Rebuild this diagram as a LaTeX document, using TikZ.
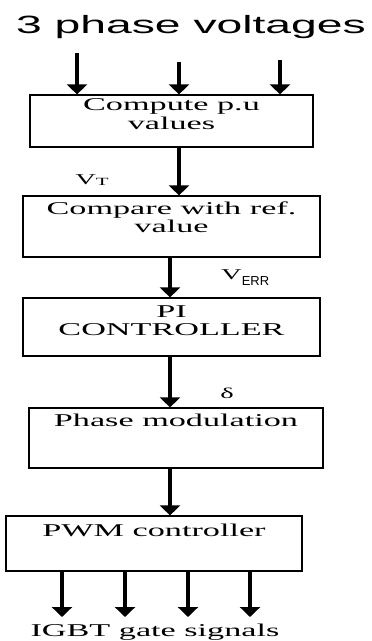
\documentclass[tikz,border=0pt]{standalone}
\usepackage{fontspec}
\setmainfont{Liberation Serif}[FakeStretch=1.9]
\newfontfamily\headfont{Liberation Sans}[FakeStretch=1.85]
\newfontfamily\errfont{Liberation Sans}
\usetikzlibrary{arrows.meta,positioning}

\begin{document}
\begin{tikzpicture}[x=1pt,y=1pt]
	\tikzstyle{box}=[draw,line width=1.2pt,rectangle,inner sep=0pt];
	\tikzstyle{flow}=[line width=4pt,-{Triangle[width=20pt,length=10pt]}];
	\tikzstyle{txt}=[font=\fontsize{18}{18.5}\selectfont,align=center,inner sep=0pt];
	\tikzstyle{lbl}=[font=\fontsize{15}{15}\selectfont,inner sep=0pt];
	\useasboundingbox (0,0) rectangle (372,-641);

	\node[font=\headfont\fontsize{25}{26}\selectfont,inner sep=0pt] (title) at (191,-27) {3 phase voltages};

	% blocks
	\node[box,minimum width=283pt,minimum height=52pt] (b1) at (171.5,-121) {};
	\node[box,minimum width=297pt,minimum height=61pt] (b2) at (171.5,-226.5) {};
	\node[box,minimum width=297pt,minimum height=58pt] (b3) at (171.5,-327) {};
	\node[box,minimum width=294pt,minimum height=60pt] (b4) at (176,-438) {};
	\node[box,minimum width=296pt,minimum height=55pt] (b5) at (154,-543.5) {};

	\node[txt,below=4pt of b1.north] (t1) {Compute p.u\\values};
	\node[txt,below=6pt of b2.north] (t2) {Compare with ref.\\value};
	\node[txt,below=8pt of b3.north] (t3) {PI\\CONTROLLER};
	\node[txt,below=6pt of b4.north] (t4) {Phase modulation};
	\node[txt,below=8pt of b5.north] (t5) {PWM controller};

	% inputs
	\coordinate (in1) at (77,-53);
	\coordinate (in2) at (179,-62);
	\coordinate (in3) at (280,-60);
	\foreach \i in {1,2,3}
		\draw[flow] (in\i) -- (in\i |- b1.north);

	% chain
	\coordinate (mid) at (170,-300);
	\draw[flow] (b1.south -| in2) -- (b2.north -| in2);
	\draw[flow] (b2.south -| mid) -- (b3.north -| mid);
	\draw[flow] (b3.south -| mid) -- (b4.north -| mid);
	\draw[flow] (b4.south -| mid) -- (b5.north -| mid);

	\node[lbl] (vt) at (92,-180) {V\raisebox{-1.5pt}{\fontsize{11}{11}\selectfont T}};
	\node[lbl,anchor=west] (verr) at (221,-278) {\raisebox{6pt}{V}\errfont\fontsize{13}{13}\selectfont ERR};
	\node[lbl] (dl) at (227,-393) {δ};

	% outputs
	\coordinate (o1) at (62,-617);
	\coordinate (o2) at (125,-617);
	\coordinate (o3) at (188,-617);
	\coordinate (o4) at (250,-617);
	\foreach \i in {1,...,4}
		\draw[flow] (o\i |- b5.south) -- (o\i);

	\node[txt,anchor=base] (igbt) at (155,-636) {IGBT gate signals};
\end{tikzpicture}
\end{document}
